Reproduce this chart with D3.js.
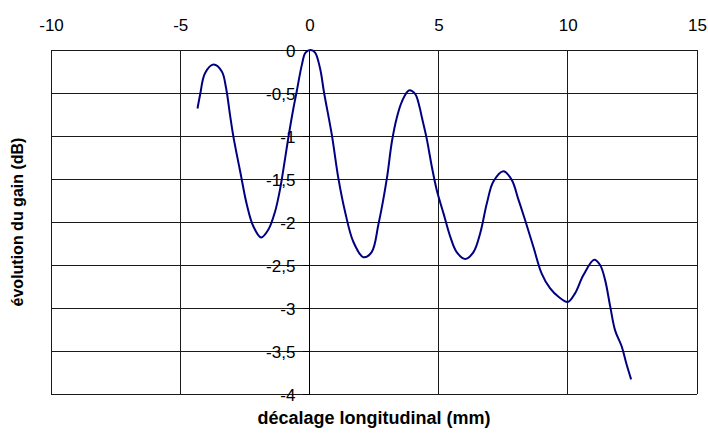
<!DOCTYPE html>
<html>
<head>
<meta charset="utf-8">
<script src="https://cdn.jsdelivr.net/npm/d3@7"></script>
<style>
  html, body { margin: 0; padding: 0; background: #fff; }
  svg { display: block; }
  text { font-family: "Liberation Sans", Arial, sans-serif; fill: #000; }
</style>
</head>
<body>
<svg id="chart" width="708" height="434"></svg>
<script>
// Longitudinal offset (mm) and gain change (dB)
const offsetMm = [
  -4.33, -4.23, -4.04, -3.71, -3.39, -3.22, -3.07, -2.94, -2.68, -2.42,
  -2.17, -1.87, -1.59, -1.33, -1.13, -0.94, -0.81, -0.62, -0.49, -0.29,
  -0.15, 0.05, 0.22, 0.41, 0.57, 0.87, 1.12, 1.38, 1.70, 2.09,
  2.41, 2.67, 3.00, 3.19, 3.38, 3.58, 3.85, 4.09, 4.26, 4.35,
  4.54, 4.74, 4.93, 5.19, 5.45, 5.70, 6.03, 6.35, 6.61, 6.87,
  7.12, 7.51, 7.83, 8.09, 8.35, 8.67, 8.99, 9.31, 9.64, 10.00,
  10.28, 10.60, 11.02, 11.25, 11.44, 11.64, 11.83, 12.09, 12.26, 12.45
];
const gainDb = [
  -0.68, -0.52, -0.27, -0.17, -0.25, -0.45, -0.76, -1.01, -1.41, -1.80,
  -2.05, -2.18, -2.09, -1.88, -1.61, -1.26, -1.01, -0.68, -0.48, -0.17,
  -0.03, 0.00, -0.03, -0.21, -0.50, -0.99, -1.49, -1.88, -2.23, -2.41,
  -2.35, -2.03, -1.49, -1.07, -0.79, -0.60, -0.47, -0.51, -0.66, -0.78,
  -1.03, -1.36, -1.63, -1.90, -2.17, -2.35, -2.43, -2.35, -2.13, -1.78,
  -1.53, -1.41, -1.51, -1.74, -1.98, -2.29, -2.60, -2.77, -2.87, -2.93,
  -2.83, -2.62, -2.44, -2.50, -2.67, -2.98, -3.26, -3.45, -3.64, -3.83
];
const xTicks = [-10, -5, 0, 5, 10, 15];
const yTicks = [0, -0.5, -1, -1.5, -2, -2.5, -3, -3.5, -4];
const xTitle = "décalage longitudinal (mm)";
const yTitle = "évolution du gain (dB)";

const plot = { left: 51, right: 697, top: 50, bottom: 394 };
const svg = d3.select("#chart");

const x = d3.scaleLinear().domain([-10, 15]).range([plot.left, plot.right]);
const y = d3.scaleLinear().domain([-4, 0]).range([plot.bottom, plot.top]);
const fmt = v => String(v).replace(".", ",");

// gridlines
const grid = svg.append("g").attr("stroke", "#1a1a1a").attr("stroke-width", 1).attr("shape-rendering", "crispEdges");
grid.selectAll("line.v").data(xTicks).join("line")
  .attr("x1", d => x(d)).attr("x2", d => x(d))
  .attr("y1", plot.top).attr("y2", plot.bottom);
grid.selectAll("line.h").data(yTicks).join("line")
  .attr("x1", plot.left).attr("x2", plot.right)
  .attr("y1", d => y(d)).attr("y2", d => y(d));

// horizontal axis along the top edge (y = 0)
const xAxis = svg.append("g")
  .attr("transform", `translate(0,${y(0)})`)
  .call(d3.axisTop(x).tickValues(xTicks).tickSize(0).tickPadding(19).tickFormat(fmt));
xAxis.select(".domain").remove();
xAxis.selectAll("text").style("font-size", "17px").attr("font-family", null);

// vertical axis crossing at x = 0
const yAxis = svg.append("g")
  .attr("transform", `translate(${x(0)},0)`)
  .call(d3.axisLeft(y).tickValues(yTicks).tickSize(6).tickPadding(8).tickFormat(fmt));
yAxis.select(".domain").attr("stroke", "#000").attr("shape-rendering", "crispEdges");
yAxis.selectAll(".tick line").attr("stroke", "#000").attr("shape-rendering", "crispEdges");
yAxis.selectAll("text").style("font-size", "17px").attr("font-family", null).attr("dy", "0.36em");

// gain curve
const line = d3.line()
  .x((d, i) => x(offsetMm[i]))
  .y(d => y(d))
  .curve(d3.curveCatmullRom.alpha(0.5));
svg.append("path")
  .datum(gainDb)
  .attr("fill", "none")
  .attr("stroke", "#000080")
  .attr("stroke-width", 2)
  .attr("stroke-linejoin", "round")
  .attr("d", line);

// axis titles
svg.append("text")
  .attr("x", (plot.left + plot.right) / 2)
  .attr("y", 424)
  .attr("text-anchor", "middle")
  .style("font-size", "18px").style("font-weight", "bold")
  .text(xTitle);
svg.append("text")
  .attr("transform", `translate(23,${(plot.top + plot.bottom) / 2}) rotate(-90)`)
  .attr("text-anchor", "middle")
  .style("font-size", "16px").style("font-weight", "bold")
  .text(yTitle);
</script>
</body>
</html>
